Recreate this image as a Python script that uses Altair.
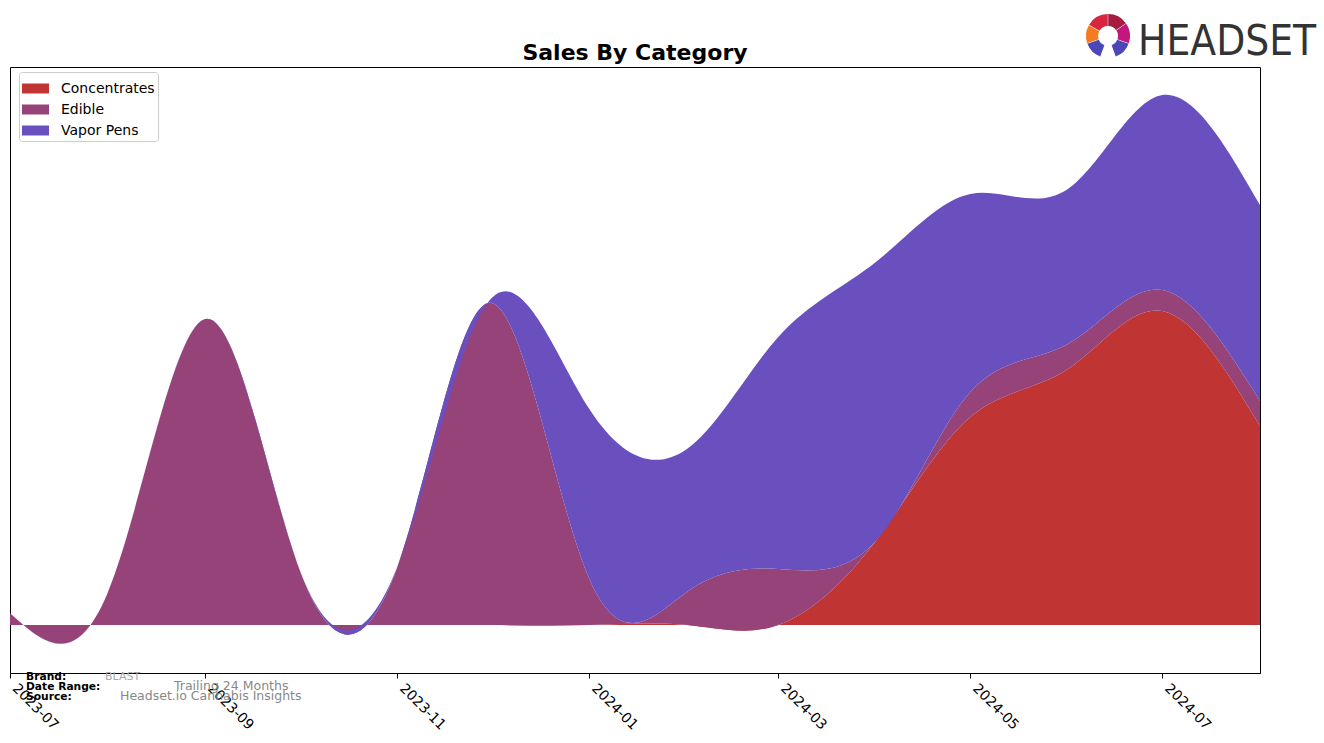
import altair as alt
import pandas as pd
import math

# ---- data (monthly; arbitrary sales units) ----
months = ["2023-07-01", "2023-08-01", "2023-09-01", "2023-10-01", "2023-11-01",
          "2023-12-01", "2024-01-01", "2024-02-01", "2024-03-01", "2024-04-01",
          "2024-05-01", "2024-06-01", "2024-07-01", "2024-08-01"]
concentrates = [0, 0, 0, 0, 0, 0, 0, 0, 0, 84, 208, 256, 314, 199]
edible = [12, 32, 306, 55, 58, 322, 46, 33, 56, 0, 25, 25, 21, 25]
vapor_pens = [0, 0, 0, 0, 0, 5, 170, 143, 232, 279, 198, 155, 195, 196]

categories = ["Concentrates", "Edible", "Vapor Pens"]
colors = ["#C03434", "#954378", "#6A4FBE"]
tick_months = [(2023, 7), (2023, 9), (2023, 11), (2024, 1), (2024, 3), (2024, 5), (2024, 7)]

note_labels = ["Brand:", "Date Range:", "Source:"]
note_values = ["BLAST", "Trailing 24 Months", "Headset.io Cannabis Insights"]

logo_colors = ["#4B47B9", "#F47B20", "#D7263D", "#A51C3F", "#C2187E", "#4B47B9"]

# ---- build table ----
rows = []
for order, (cat, series) in enumerate(zip(categories, [concentrates, edible, vapor_pens])):
    for m, v in zip(months, series):
        rows.append({"month": m + "T00:00:00", "category": cat, "sales": v, "ord": order})
df = pd.DataFrame(rows)

FONT = "DejaVu Sans"

x_axis = alt.Axis(
    values=[alt.DateTime(year=y, month=mo, date=1) for y, mo in tick_months],
    format="%Y-%m", labelAngle=45, labelAlign="left", labelBaseline="top",
    labelFontSize=14, labelFont=FONT, labelColor="black", labelPadding=3, labelOffset=9,
    tickColor="black", tickSize=5, domainColor="black", grid=False, title=None,
    labelOverlap=False, labelFlush=False,
)

area = alt.Chart(df).mark_area(interpolate="natural", opacity=1, clip=True).encode(
    x=alt.X("month:T", axis=x_axis,
            scale=alt.Scale(domain=[alt.DateTime(year=2023, month=7, date=1),
                                    alt.DateTime(year=2024, month=8, date=1)])),
    y=alt.Y("sales:Q", stack="zero", axis=None, scale=alt.Scale(domain=[-48, 558], nice=False, zero=False)),
    color=alt.Color("category:N", scale=alt.Scale(domain=categories, range=colors),
                    legend=alt.Legend(orient="none", legendX=9, legendY=5, title=None,
                                      fillColor="white", strokeColor="#cccccc", cornerRadius=3,
                                      padding=3, labelFontSize=14, labelFont=FONT, labelColor="black",
                                      symbolType="M-1,-0.37L1,-0.37L1,0.37L-1,0.37Z",
                                      symbolSize=729, symbolStrokeWidth=0, symbolOpacity=1,
                                      labelOffset=12, rowPadding=0)),
    order=alt.Order("ord:Q", sort="ascending"),
)

one = pd.DataFrame({"a": [0]})

layers = [area]

# title
layers.append(alt.Chart(one).mark_text(text="Sales By Category", font=FONT, fontSize=22,
                                       fontWeight="bold", align="center", baseline="alphabetic",
                                       color="black").encode(
    x=alt.value(625), y=alt.value(-7)))

# footnotes
note_y = [610, 620, 630]
value_x = [95, 164, 110]
value_y = [610, 619, 629]
value_sizes = [11, 12.5, 12.5]
value_colors = ["#aaaaaa", "#888888", "#888888"]
for i in range(3):
    layers.append(alt.Chart(one).mark_text(text=note_labels[i], font=FONT, fontWeight="bold",
                                           fontSize=10.7, align="left", baseline="middle",
                                           color="black").encode(
        x=alt.value(16), y=alt.value(note_y[i])))
    layers.append(alt.Chart(one).mark_text(text=note_values[i], font=FONT, fontSize=value_sizes[i],
                                           align="left", baseline="middle",
                                           color=value_colors[i]).encode(
        x=alt.value(value_x[i]), y=alt.value(value_y[i])))

# logo
seg = [(200, 250), (250, 300), (300, 360), (0, 55), (55, 110), (110, 160)]
for (a0, a1), c in zip(seg, logo_colors):
    layers.append(alt.Chart(one).mark_arc(theta=math.radians(a0), theta2=math.radians(a1),
                                          radius=22, radius2=10, fill=c, padAngle=0.02).encode(
        x=alt.value(1098), y=alt.value(-31)))
layers.append(alt.Chart(one).mark_text(text="HEADSET", font="DejaVu Sans Condensed",
                                       fontSize=42, align="left", baseline="alphabetic",
                                       color="#333333").encode(
    x=alt.value(1128), y=alt.value(-12)))

chart = alt.layer(*layers).properties(
    width=1250, height=606,
    autosize=alt.AutoSizeParams(type="none"),
    padding={"left": 10, "top": 67, "right": 64, "bottom": 70},
).configure_view(stroke="black", strokeWidth=1)

chart.save("out.html", embed_options={"renderer": "svg", "actions": False})
